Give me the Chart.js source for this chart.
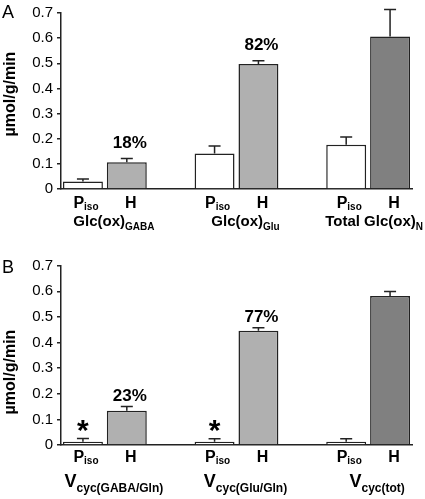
<!DOCTYPE html>
<html>
<head>
<meta charset="utf-8">
<script src="https://cdn.jsdelivr.net/npm/chart.js@4.4.1/dist/chart.umd.min.js"></script>
<style>
    html, body { margin: 0; padding: 0; background: #fff; }
    #wrap { position: relative; width: 425px; height: 499px; }
    .panel { position: absolute; left: 0; width: 425px; }
    #panelA { top: 0; height: 245px; }
    #panelB { top: 245px; height: 254px; }
</style>
</head>
<body>
<div id="wrap">
    <div class="panel" id="panelA"><canvas id="chartA" width="425" height="245"></canvas></div>
    <div class="panel" id="panelB"><canvas id="chartB" width="425" height="254"></canvas></div>
</div>
<script>
// --- Data ---

// conditions within each group: P_iso and H
const groupsA = [['Glc(ox)', 'GABA'], ['Glc(ox)', 'Glu'], ['Total Glc(ox)', 'N']];
const pisoA = [0.030, 0.141, 0.176];
const pisoErrA = [0.010, 0.030, 0.031];
const hA = [0.106, 0.497, 0.607];
const hErrA = [0.015, 0.013, 0.107];
const pctA = ['18%', '82%', null];

const groupsB = [['V', 'cyc(GABA/Gln)'], ['V', 'cyc(Glu/Gln)'], ['V', 'cyc(tot)']];
const pisoB = [0.013, 0.013, 0.013];
const pisoErrB = [0.012, 0.011, 0.011];
const hB = [0.134, 0.446, 0.582];
const hErrB = [0.016, 0.012, 0.017];
const pctB = ['23%', '77%', null];
const starB = [true, true, false];

const yTicks = [0, 0.1, 0.2, 0.3, 0.4, 0.5, 0.6, 0.7];

const WHITE = '#ffffff';
const LIGHT = '#b0b0b0';
const DARK = '#808080';
const INK = '#222222';
const FONT = '"Liberation Sans", Arial, sans-serif';

// 8 category slots: P, H, gap, P, H, gap, P, H
function toSlots(p, h) {
    return [p[0], h[0], null, p[1], h[1], null, p[2], h[2]];
}
const slotLabels = ['P1', 'H1', '', 'P2', 'H2', '', 'P3', 'H3'];
const slotColors = [WHITE, LIGHT, WHITE, WHITE, LIGHT, WHITE, WHITE, DARK];

// draw a label with a subscript part, centred on cx (kept inside the canvas)
function drawSub(ctx, cx, baseline, main, sub, mainSize, subSize, subDrop) {
    ctx.font = 'bold ' + mainSize + 'px ' + FONT;
    const w1 = ctx.measureText(main).width;
    ctx.font = 'bold ' + subSize + 'px ' + FONT;
    const w2 = ctx.measureText(sub).width;
    let x = cx - (w1 + w2) / 2;
    const maxRight = ctx.canvas.width - 2;
    if (x + w1 + w2 > maxRight) x = maxRight - w1 - w2;
    ctx.textAlign = 'left';
    ctx.textBaseline = 'alphabetic';
    ctx.font = 'bold ' + mainSize + 'px ' + FONT;
    ctx.fillText(main, x, baseline);
    ctx.font = 'bold ' + subSize + 'px ' + FONT;
    ctx.fillText(sub, x + w1, baseline + subDrop);
}

// --- Plugin: error bars, labels, annotations ---

const extras = {
    id: 'extras',
    afterDraw(chart, args, o) {
        const ctx = chart.ctx;
        const xs = chart.scales.x;
        const ys = chart.scales.y;
        const bottom = chart.chartArea.bottom;
        ctx.save();
        ctx.fillStyle = '#000';

        // error bars (upper only)
        ctx.strokeStyle = INK;
        ctx.lineWidth = 1.5;
        o.values.forEach((v, i) => {
            if (v == null) return;
            const cx = xs.getPixelForValue(i);
            const y0 = ys.getPixelForValue(v);
            const y1 = ys.getPixelForValue(v + o.errors[i]);
            ctx.beginPath();
            ctx.moveTo(cx, y0);
            ctx.lineTo(cx, y1);
            ctx.moveTo(cx - 6, y1);
            ctx.lineTo(cx + 6, y1);
            ctx.stroke();
        });

        // percentage labels above H bars
        ctx.font = 'bold 17px ' + FONT;
        ctx.textAlign = 'center';
        ctx.textBaseline = 'alphabetic';
        o.pct.forEach((t, g) => {
            if (!t) return;
            const i = g * 3 + 1;
            const cx = xs.getPixelForValue(i);
            const yt = ys.getPixelForValue(o.values[i] + o.errors[i]);
            ctx.fillText(t, cx + 3, yt - o.pctGap);
        });

        // asterisks above P_iso bars
        if (o.stars) {
            ctx.font = 'bold 30px ' + FONT;
            o.stars.forEach((s, g) => {
                if (!s) return;
                const i = g * 3;
                const cx = xs.getPixelForValue(i);
                const yt = ys.getPixelForValue(o.values[i] + o.errors[i]);
                ctx.fillText('*', cx, yt + 1);
            });
        }

        // condition labels under each bar
        for (let g = 0; g < 3; g++) {
            const px = xs.getPixelForValue(g * 3);
            const hx = xs.getPixelForValue(g * 3 + 1);
            drawSub(ctx, px + 3, bottom + o.condY, 'P', 'iso', 16, 10, 2);
            ctx.font = 'bold 16px ' + FONT;
            ctx.textAlign = 'center';
            ctx.fillText('H', hx + 4, bottom + o.condY);
            const gx = (px + hx) / 2 + 9;
            drawSub(ctx, gx, bottom + o.groupY, o.groups[g][0], o.groups[g][1], o.groupSize, o.subSize, o.subDrop);
        }

        // y axis title
        ctx.save();
        ctx.translate(11, o.titleY);
        ctx.rotate(-Math.PI / 2);
        ctx.font = 'bold 16px ' + FONT;
        ctx.textAlign = 'center';
        ctx.textBaseline = 'middle';
        ctx.fillText('\u00b5mol/g/min', 0, 0);
        ctx.restore();

        // panel letter
        ctx.font = '18px ' + FONT;
        ctx.textAlign = 'left';
        ctx.textBaseline = 'alphabetic';
        ctx.fillText(o.letter, 2, o.letterY);
        ctx.restore();
    }
};

function makeChart(id, values, errors, extraOpts, padTop, xHeight) {
    const ctx = document.getElementById(id).getContext('2d');
    return new Chart(ctx, {
        type: 'bar',
        data: {
            labels: slotLabels,
            datasets: [{
                data: values,
                backgroundColor: slotColors,
                borderColor: INK,
                borderWidth: 1.5,
                barPercentage: 0.91,
                categoryPercentage: 1.0
            }]
        },
        options: {
            responsive: false,
            animation: false,
            layout: { padding: { top: padTop, right: 13, left: 0, bottom: 0 } },
            plugins: {
                legend: { display: false },
                tooltip: { enabled: false },
                extras: extraOpts
            },
            scales: {
                x: {
                    ticks: { display: false },
                    grid: { display: false, drawTicks: false },
                    border: { display: true, color: INK, width: 1.5 },
                    afterFit: (scale) => { scale.height = xHeight; }
                },
                y: {
                    min: 0,
                    max: 0.7,
                    afterBuildTicks: (scale) => { scale.ticks = yTicks.map(v => ({ value: v })); },
                    ticks: {
                        color: '#000',
                        font: { family: FONT, size: 15 },
                        padding: 4,
                        callback: (v) => v === 0 ? '0' : v.toFixed(1)
                    },
                    grid: { drawOnChartArea: false, drawTicks: true, tickLength: 4, color: INK, lineWidth: 1.5 },
                    border: { display: true, color: INK, width: 1.5 },
                    afterFit: (scale) => { scale.width = 61; }
                }
            }
        },
        plugins: [extras]
    });
}

const valsA = toSlots(pisoA, hA);
const errsA = toSlots(pisoErrA, hErrA);
makeChart('chartA', valsA, errsA, {
    values: valsA, errors: errsA, pct: pctA, pctGap: 11, stars: null,
    groups: groupsA, condY: 18.5, groupY: 36.5, groupSize: 15, subSize: 10, subDrop: 4,
    titleY: 94, letter: 'A', letterY: 18
}, 10, 56);

const valsB = toSlots(pisoB, hB);
const errsB = toSlots(pisoErrB, hErrB);
makeChart('chartB', valsB, errsB, {
    values: valsB, errors: errsB, pct: pctB, pctGap: 6, stars: starB,
    groups: groupsB, condY: 17, groupY: 42, groupSize: 18, subSize: 12, subDrop: 5,
    titleY: 127, letter: 'B', letterY: 28
}, 20.7, 54);
</script>
</body>
</html>
